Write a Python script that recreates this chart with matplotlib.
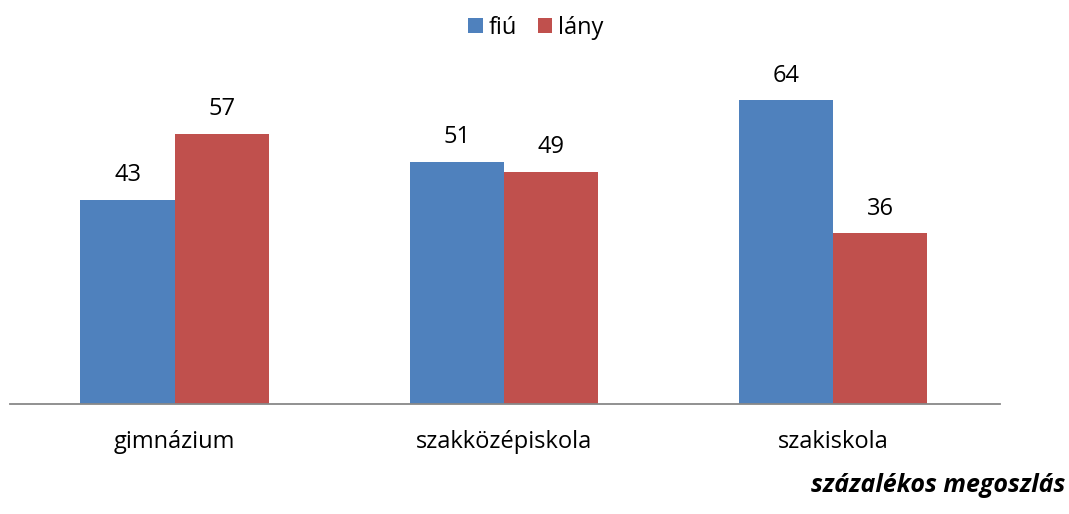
import matplotlib.pyplot as plt
import numpy as np

categories = ['gimnázium', 'szakközépiskola', 'szakiskola']
fiu = [43, 51, 64]
lany = [57, 49, 36]
series_names = ['fiú', 'lány']

plt.rcParams['font.family'] = ['Open Sans', 'DejaVu Sans']

fig = plt.figure(figsize=(10.69, 5.14), dpi=100)
ax = fig.add_axes([10 / 1069, (514 - 404) / 514, 990 / 1069, 332 / 514])

x = np.arange(len(categories))
w = 0.286
b1 = ax.bar(x - w / 2, fiu, w, color='#4F81BD', label=series_names[0])
b2 = ax.bar(x + w / 2, lany, w, color='#C0504D', label=series_names[1])

for bars in (b1, b2):
    for r in bars:
        ax.text(r.get_x() + r.get_width() / 2, r.get_height() + 5.2, '%d' % r.get_height(),
                ha='center', va='center', fontsize=17)

ax.set_xlim(-0.5, 2.507)
ax.set_ylim(0, 70)
ax.set_yticks([])
ax.set_xticks(x)
ax.set_xticklabels(categories, fontsize=17)
ax.tick_params(axis='x', length=0, pad=19)
for s in ['top', 'right', 'left']:
    ax.spines[s].set_visible(False)
ax.spines['bottom'].set_color('#888888')
ax.spines['bottom'].set_linewidth(1.3)

fig.legend(loc='center', bbox_to_anchor=(536 / 1069, 1 - 28 / 514), ncol=2, frameon=False,
           fontsize=17, handlelength=0.6, handleheight=0.6, handletextpad=0.25, columnspacing=0.9)

fig.text(1065 / 1069, 1 - 486 / 514, 'százalékos megoszlás', ha='right', va='center',
         fontsize=18, fontweight='bold', fontstyle='italic')

fig.savefig('out.png', dpi=100)
